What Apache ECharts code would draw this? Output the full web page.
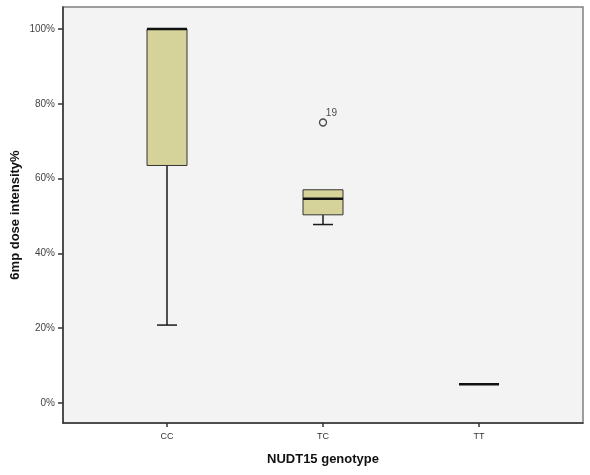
<!DOCTYPE html>
<html>
<head>
<meta charset="utf-8">
<script src="https://cdn.jsdelivr.net/npm/echarts@6/dist/echarts.min.js"></script>
<style>
html,body{margin:0;padding:0;background:#fff;}
#main{width:590px;height:475px;}
</style>
</head>
<body>
<div id="main"></div>
<script>
var categories = ['CC', 'TC', 'TT'];
var mins    = [20.8, 47.7, 5.0];
var q1s     = [63.5, 50.3, 5.0];
var medians = [100, 54.6, 5.0];
var q3s     = [100, 57.0, 5.0];
var maxs    = [100, 57.0, 5.0];
var outlierCategory = ['TC'];
var outlierValues = [75.0];
var outlierLabels = ['19'];
var yTicks = [0, 20, 40, 60, 80, 100];

var boxData = categories.map(function (c, i) {
  return [i, mins[i], q1s[i], medians[i], q3s[i], maxs[i]];
});
var outData = outlierValues.map(function (v, i) {
  return { value: [categories.indexOf(outlierCategory[i]), v], label: outlierLabels[i] };
});

var chart = echarts.init(document.getElementById('main'), null, { renderer: 'canvas' });

function renderBox(params, api) {
  var x = api.value(0);
  var mn = api.value(1), q1 = api.value(2), md = api.value(3), q3 = api.value(4), mx = api.value(5);
  var half = 20, capHalf = 10;
  var pMin = api.coord([x, mn]);
  var pQ1 = api.coord([x, q1]);
  var pMd = api.coord([x, md]);
  var pQ3 = api.coord([x, q3]);
  var pMax = api.coord([x, mx]);
  var children = [];
  var lineStyle = { stroke: '#1a1a1a', lineWidth: 1.5 };
  if (pMin[1] - pQ1[1] > 0.5) {
    children.push({ type: 'line', shape: { x1: pQ1[0], y1: pQ1[1], x2: pMin[0], y2: pMin[1] }, style: lineStyle });
    children.push({ type: 'line', shape: { x1: pMin[0] - capHalf, y1: pMin[1], x2: pMin[0] + capHalf, y2: pMin[1] }, style: lineStyle });
  }
  if (pQ3[1] - pMax[1] > 0.5) {
    children.push({ type: 'line', shape: { x1: pQ3[0], y1: pQ3[1], x2: pMax[0], y2: pMax[1] }, style: lineStyle });
    children.push({ type: 'line', shape: { x1: pMax[0] - capHalf, y1: pMax[1], x2: pMax[0] + capHalf, y2: pMax[1] }, style: lineStyle });
  }
  if (pQ1[1] - pQ3[1] > 0.5) {
    children.push({ type: 'rect', shape: { x: pQ3[0] - half, y: pQ3[1], width: half * 2, height: pQ1[1] - pQ3[1] },
      style: { fill: '#d6d39a', stroke: '#333333', lineWidth: 1 } });
  }
  children.push({ type: 'line', shape: { x1: pMd[0] - half, y1: pMd[1], x2: pMd[0] + half, y2: pMd[1] },
    style: { stroke: '#111111', lineWidth: 2.5 } });
  return { type: 'group', children: children };
}

var option = {
  backgroundColor: '#ffffff',
  animation: false,
  grid: {
    left: 63, top: 7, right: 7, bottom: 52,
    outerBoundsMode: 'none',
    containLabel: false,
    show: true, backgroundColor: '#f3f3f3', borderColor: '#808080', borderWidth: 1.5
  },
  xAxis: {
    type: 'value',
    min: -2 / 3, max: 8 / 3,
    name: 'NUDT15 genotype',
    nameLocation: 'middle',
    nameGap: 30,
    nameMoveOverlap: false,
    nameTextStyle: { fontFamily: 'Liberation Sans', fontWeight: 'bold', fontSize: 13, color: '#111' },
    axisLine: { show: true, onZero: false, lineStyle: { color: '#333', width: 1.5 } },
    axisTick: { show: true, length: 4, customValues: [0, 1, 2], lineStyle: { color: '#333', width: 1.5 } },
    axisLabel: {
      customValues: [0, 1, 2],
      formatter: function (v) { return categories[Math.round(v)] || ''; },
      fontFamily: 'Liberation Sans', fontSize: 9, color: '#333', margin: 9
    },
    splitLine: { show: false }
  },
  yAxis: {
    type: 'value',
    min: -5.4, max: 105.9,
    name: '6mp dose intensity%',
    nameLocation: 'middle',
    nameGap: 41,
    nameMoveOverlap: false,
    nameTextStyle: { fontFamily: 'Liberation Sans', fontWeight: 'bold', fontSize: 13, color: '#111' },
    axisLine: { show: true, onZero: false, lineStyle: { color: '#333', width: 1.5 } },
    axisTick: { show: true, length: 5, customValues: yTicks, lineStyle: { color: '#333', width: 1.5 } },
    axisLabel: {
      customValues: yTicks,
      formatter: function (v) { return Math.round(v) + '%'; },
      fontFamily: 'Liberation Sans', fontSize: 10, color: '#444', margin: 8
    },
    splitLine: { show: false }
  },
  series: [
    {
      type: 'custom',
      renderItem: renderBox,
      encode: { x: 0, y: [1, 2, 3, 4, 5] },
      data: boxData,
      clip: false
    },
    {
      type: 'scatter',
      symbol: 'circle',
      symbolSize: 7,
      itemStyle: { color: '#f3f3f3', borderColor: '#222', borderWidth: 1.3 },
      label: {
        show: true,
        formatter: function (p) { return p.data.label; },
        position: [7, -10],
        fontFamily: 'Liberation Sans', fontSize: 10, color: '#222'
      },
      data: outData
    }
  ]
};
chart.setOption(option);
</script>
</body>
</html>
